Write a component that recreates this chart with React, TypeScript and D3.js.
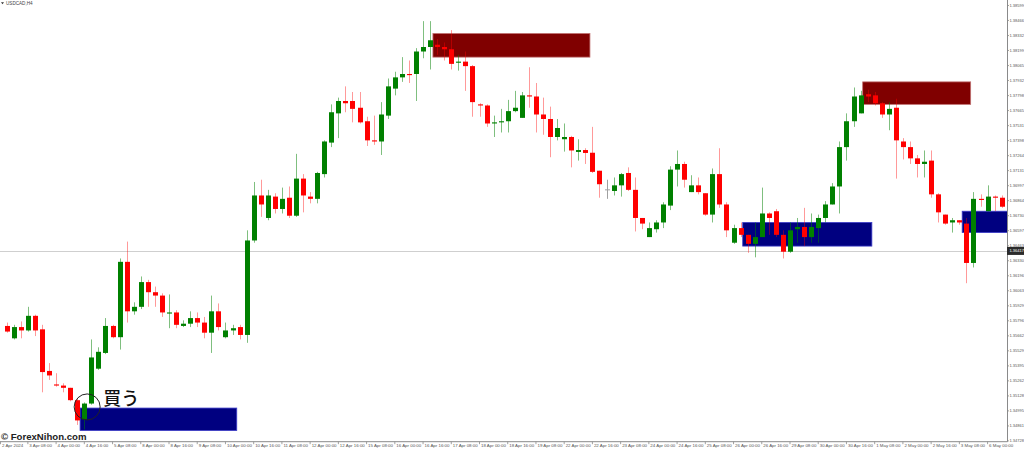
import React, { useEffect } from "react";
import * as d3 from "d3";

// ---- data (USDCAD H4) ----
const opens = [1.3575,1.3564,1.3574,1.3571,1.3584,1.3572,1.3535,1.3523,1.3522,1.3520,1.3509,1.3492,1.3506,1.3537,1.3551,1.3575,1.3565,1.3632,1.3588,1.3592,1.3614,1.3605,1.3602,1.3586,1.3587,1.3575,1.3577,1.3582,1.3578,1.3569,1.3588,1.3565,1.3571,1.3574,1.3567,1.3651,1.3691,1.3671,1.3690,1.3679,1.3689,1.3673,1.3706,1.3690,1.3688,1.3710,1.3738,1.3764,1.3775,1.3775,1.3769,1.3757,1.3740,1.3739,1.3762,1.3786,1.3796,1.3799,1.3799,1.3819,1.3823,1.3825,1.3823,1.3821,1.3809,1.3810,1.3806,1.3772,1.3771,1.3755,1.3756,1.3757,1.3766,1.3760,1.3780,1.3779,1.3763,1.3759,1.3743,1.3741,1.3743,1.37297,1.37314,1.3729,1.3713,1.3696,1.3695,1.3700,1.3711,1.3696,1.3671,1.3654,1.3661,1.3667,1.3682,1.3714,1.3719,1.3694,1.3700,1.3693,1.3674,1.3710,1.3683,1.3649,1.3662,1.3656,1.3648,1.3654,1.3675,1.3677,1.3656,1.3641,1.3661,1.3663,1.3654,1.3662,1.3671,1.3683,1.3699,1.3734,1.3757,1.3764,1.3781,1.3780,1.3773,1.3763,1.3769,1.3739,1.3734,1.3724,1.3719,1.3722,1.3692,1.3674,1.3667,1.3669,1.3666,1.3631,1.3688,1.3677,1.3690,1.3689];
const highs = [1.3578,1.3576,1.3579,1.3592,1.3585,1.3576,1.3542,1.3533,1.3524,1.3520,1.3511,1.3507,1.3563,1.3556,1.3582,1.3576,1.3635,1.3650,1.3596,1.3619,1.3616,1.3610,1.3604,1.3603,1.3589,1.3580,1.3588,1.3587,1.3583,1.3602,1.3595,1.3578,1.3576,1.3576,1.3660,1.3703,1.3705,1.3696,1.3693,1.3698,1.3699,1.3728,1.3710,1.3694,1.3712,1.3740,1.3772,1.3778,1.3788,1.3783,1.3783,1.3761,1.3762,1.3774,1.3795,1.3801,1.3814,1.3811,1.3822,1.3846,1.3846,1.3830,1.3827,1.3838,1.3816,1.3819,1.3807,1.3773,1.3772,1.3762,1.3768,1.3776,1.3784,1.3783,1.3805,1.3791,1.3778,1.3770,1.3759,1.3755,1.3744,1.3741,1.3733,1.3752,1.3713,1.3705,1.3707,1.3711,1.3716,1.3707,1.3671,1.3667,1.3669,1.3685,1.3717,1.3731,1.3721,1.3709,1.3707,1.3693,1.3715,1.3733,1.3685,1.3665,1.3667,1.3656,1.3667,1.3698,1.3676,1.3679,1.3660,1.3667,1.3671,1.3680,1.3675,1.3674,1.3686,1.3702,1.3739,1.3764,1.3787,1.3784,1.3785,1.3783,1.3774,1.3774,1.3777,1.3742,1.3739,1.3727,1.3731,1.3731,1.3693,1.3674,1.3671,1.3669,1.3671,1.3694,1.3692,1.3700,1.3691,1.3691];
const lows = [1.3569,1.3563,1.3564,1.3570,1.3566,1.3516,1.3527,1.3521,1.3516,1.3508,1.3487,1.3483,1.3505,1.3536,1.3550,1.3564,1.3554,1.3578,1.3585,1.3590,1.3592,1.3592,1.3583,1.3573,1.3573,1.3574,1.3574,1.3574,1.3564,1.3551,1.3571,1.3564,1.3567,1.3563,1.3560,1.3649,1.3672,1.3669,1.3675,1.3675,1.3671,1.3672,1.3676,1.3684,1.3684,1.3707,1.3734,1.3742,1.3765,1.3756,1.3755,1.3735,1.3736,1.3727,1.3759,1.3780,1.3792,1.3791,1.3775,1.3813,1.3803,1.3816,1.3811,1.3803,1.3802,1.3784,1.3761,1.3761,1.3752,1.3743,1.3747,1.3747,1.3765,1.3760,1.3769,1.3747,1.3745,1.3725,1.3740,1.3730,1.3716,1.3722,1.3719,1.3711,1.3689,1.3688,1.3691,1.3690,1.3695,1.3659,1.3661,1.3654,1.3658,1.3662,1.3678,1.3699,1.3698,1.3694,1.3692,1.3673,1.3667,1.3680,1.3654,1.3648,1.3654,1.3640,1.3636,1.3654,1.3656,1.3654,1.3635,1.3640,1.3649,1.3646,1.3649,1.3649,1.3667,1.3683,1.3675,1.3722,1.3752,1.3764,1.3774,1.3771,1.3760,1.3749,1.3706,1.3723,1.3719,1.3707,1.3707,1.3689,1.3667,1.3665,1.3658,1.3665,1.3613,1.3627,1.3681,1.3677,1.3677,1.3680];
const closes = [1.3570,1.3574,1.3571,1.3584,1.3571,1.3534,1.3531,1.3522,1.3520,1.3509,1.3491,1.3506,1.3547,1.3552,1.3575,1.3565,1.3632,1.3588,1.3592,1.3614,1.3605,1.3602,1.3587,1.3587,1.3576,1.3577,1.3582,1.3578,1.3569,1.3588,1.3574,1.3571,1.3573,1.3567,1.3651,1.3691,1.3683,1.3691,1.3679,1.3688,1.3673,1.3706,1.3691,1.3688,1.3711,1.3739,1.3765,1.3775,1.3773,1.3768,1.3756,1.3740,1.3739,1.3763,1.3788,1.3796,1.3799,1.3798,1.3819,1.3823,1.3829,1.3823,1.3821,1.3808,1.3810,1.3806,1.3774,1.3771,1.3755,1.3756,1.3757,1.3766,1.3769,1.3780,1.3779,1.3763,1.3759,1.3743,1.3751,1.3743,1.3731,1.37314,1.37288,1.3712,1.3701,1.3696,1.3700,1.3710,1.3696,1.3671,1.3666,1.3662,1.3667,1.3683,1.3714,1.3719,1.3705,1.3700,1.3694,1.3674,1.3710,1.3683,1.3660,1.3662,1.3656,1.3648,1.3654,1.3675,1.3671,1.3656,1.3641,1.3660,1.3663,1.3654,1.3663,1.3671,1.3683,1.3699,1.3734,1.3757,1.3779,1.3780,1.3779,1.3773,1.3763,1.3768,1.3740,1.3734,1.3724,1.3719,1.3721,1.3692,1.3676,1.3666,1.3669,1.3667,1.3631,1.3688,1.3687,1.3690,1.3689,1.3681];

const priceTicks = [1.38599,1.38466,1.38332,1.38199,1.38065,1.37932,1.37798,1.37665,1.37531,1.37398,1.37264,1.37131,1.36997,1.36864,1.36730,1.36597,1.36463,1.36330,1.36196,1.36063,1.35929,1.35796,1.35662,1.35529,1.35395,1.35262,1.35128,1.34995,1.34861,1.34728];

const timeLabels = ["2 Apr 2024","3 Apr 08:00","4 Apr 00:00","4 Apr 16:00","5 Apr 08:00","8 Apr 00:00","8 Apr 16:00","9 Apr 08:00","10 Apr 00:00","10 Apr 16:00","11 Apr 08:00","12 Apr 00:00","12 Apr 16:00","15 Apr 08:00","16 Apr 00:00","16 Apr 16:00","17 Apr 08:00","18 Apr 00:00","18 Apr 16:00","19 Apr 08:00","22 Apr 00:00","22 Apr 16:00","23 Apr 08:00","24 Apr 00:00","24 Apr 16:00","25 Apr 08:00","26 Apr 00:00","26 Apr 16:00","29 Apr 08:00","30 Apr 00:00","30 Apr 16:00","1 May 08:00","2 May 00:00","2 May 16:00","3 May 08:00","6 May 00:00"];
const timeLabelBars = timeLabels.map((_, i) => i * 4 - 1);

// supply / demand zones (bar index span, price span)
const zoneStart = [10.4, 60.4, 104.3, 121.3, 135.4];
const zoneEnd = [32.6, 82.65, 122.6, 136.6, 145];
const zoneTop = [1.3502, 1.3835, 1.3667, 1.3792, 1.3677];
const zoneBottom = [1.3482, 1.3814, 1.3646, 1.3772, 1.3658];
const zoneKind = ["buy", "sell", "buy", "sell", "buy"];

const currentPrice = 1.36417;
const buyMarkBar = 11.4;
const buyMarkPrice = 1.3503;

const W = 1024;
const H = 449;
const plotRight = 1007;
const plotBottom = 441.7;

export default function App() {
  useEffect(() => {
    document.body.style.margin = "0";
  }, []);

  const x = d3.scaleLinear().domain([0, 141]).range([6.7, 1001.7]);
  const y = d3.scaleLinear().domain([1.34728, 1.38599]).range([440.9, 5.5]);
  const bodyW = 5;

  const GREEN = "#008000";
  const RED = "#ff0000";
  const GRAY = "#a0a0a0";
  const axisFont = "'Liberation Sans', Arial, sans-serif";

  const candles = opens.map((o, i) => {
    const c = closes[i];
    const color = c > o ? GREEN : c < o ? RED : GRAY;
    const wickColor = c > o ? "rgba(0,128,0,0.5)" : c < o ? "rgba(255,0,0,0.4)" : "#a0a0a0";
    const top = y(Math.max(o, c));
    const bot = y(Math.min(o, c));
    const cx = Math.round(x(i)) + 0.5;
    return (
      <g key={i}>
        <line x1={cx} x2={cx} y1={y(highs[i])} y2={y(lows[i])} stroke={wickColor} strokeWidth={1} />
        {c === o ? (
          <line x1={cx - bodyW / 2} x2={cx + bodyW / 2} y1={top} y2={top} stroke={color} strokeWidth={1} />
        ) : (
          <rect x={cx - bodyW / 2} y={top} width={bodyW} height={Math.max(1, bot - top)} fill={color} />
        )}
      </g>
    );
  });

  const zones = zoneStart.map((s, i) => {
    const buy = zoneKind[i] === "buy";
    const x0 = x(s);
    const x1 = x(zoneEnd[i]);
    const y0 = y(zoneTop[i]);
    const y1 = y(zoneBottom[i]);
    return (
      <rect
        key={i}
        x={x0}
        y={y0}
        width={x1 - x0}
        height={y1 - y0}
        fill={buy ? "#000080" : "#800000"}
        stroke={buy ? "#3c3cc8" : "#c07070"}
        strokeWidth={0.8}
      />
    );
  });

  const markX = x(buyMarkBar);
  const markY = y(buyMarkPrice);

  return (
    <svg width={W} height={H} style={{ position: "absolute", left: 0, top: 0, display: "block", background: "#fff" }}>
      <defs>
        <clipPath id="plot">
          <rect x={0} y={0} width={plotRight} height={plotBottom} />
        </clipPath>
      </defs>
      <rect x={0} y={0} width={W} height={H} fill="#ffffff" />

      <g clipPath="url(#plot)">
        {zones}
        <line x1={0} x2={plotRight} y1={Math.round(y(currentPrice)) + 0.5} y2={Math.round(y(currentPrice)) + 0.5} stroke="#cfcfcf" strokeWidth={1} />
        {candles}
      </g>

      {/* title */}
      <path d="M1,2.2 L4,2.2 L2.5,4.2 Z" fill="#333" />
      <text x={6} y={5.2} fontSize={4.6} fill="#444" fontFamily={axisFont}>USDCAD,H4</text>

      {/* buy annotation */}
      <circle cx={markX} cy={markY} r={13} fill="none" stroke="#222" strokeWidth={1} />
      <text x={markX + 16} y={markY - 2} fontSize={18} fontWeight={500} fill="#111" fontFamily="'Noto Sans CJK JP', sans-serif">買う</text>

      {/* watermark */}
      <text x={1} y={440} fontSize={9.6} fontWeight={700} fill="#222" fontFamily={axisFont}>© ForexNihon.com</text>

      {/* right axis */}
      <line x1={plotRight + 0.5} x2={plotRight + 0.5} y1={0} y2={plotBottom} stroke="#8a8a8a" strokeWidth={1} />
      {priceTicks.map((p, i) => (
        <g key={i}>
          <line x1={plotRight} x2={plotRight + 2} y1={y(p)} y2={y(p)} stroke="#8a8a8a" strokeWidth={0.8} />
          <text x={plotRight + 2.4} y={y(p) + 1.4} fontSize={4} fill="#555" fontFamily={axisFont}>{p.toFixed(5)}</text>
        </g>
      ))}
      <rect x={plotRight} y={y(currentPrice) - 4} width={W - plotRight} height={8} fill="#2b2b2b" />
      <text x={plotRight + 2.4} y={y(currentPrice) + 1.4} fontSize={4} fill="#fff" fontFamily={axisFont}>{currentPrice.toFixed(5)}</text>

      {/* bottom axis */}
      <line x1={0} x2={plotRight + 0.5} y1={plotBottom} y2={plotBottom} stroke="#8a8a8a" strokeWidth={1} />
      {timeLabels.map((t, i) => {
        const tx = Math.max(0.5, x(timeLabelBars[i]));
        return (
          <g key={i}>
            <line x1={tx} x2={tx} y1={plotBottom} y2={plotBottom + 2.5} stroke="#8a8a8a" strokeWidth={0.8} />
            <text x={tx + 1.5} y={plotBottom + 5.3} fontSize={4.4} fill="#555" fontFamily={axisFont}>{t}</text>
          </g>
        );
      })}
    </svg>
  );
}
